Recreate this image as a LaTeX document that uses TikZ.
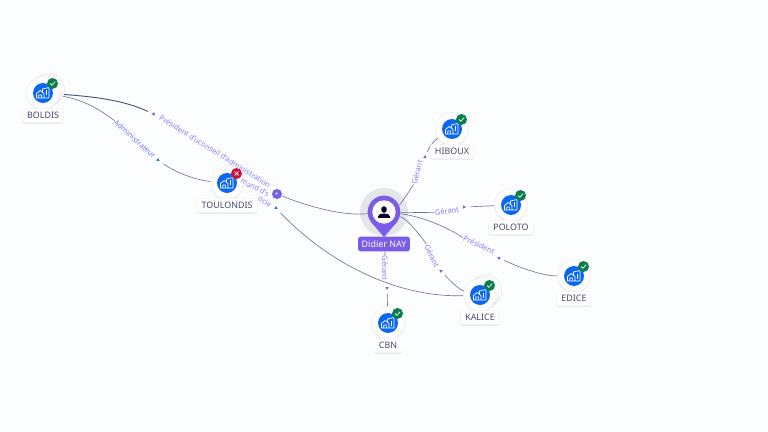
\documentclass[tikz,border=0pt]{standalone}
\usepackage{fontspec}
\setmainfont{Noto Sans}
\usetikzlibrary{shapes.geometric,shadows,backgrounds}
\definecolor{pagebg}{HTML}{FBFDFF}
\definecolor{pinpurple}{HTML}{7B5CE6}
\definecolor{halogray}{HTML}{E4E6EA}
\definecolor{edgeline}{HTML}{6E7A92}
\definecolor{edgedark}{HTML}{47587A}
\definecolor{edgetext}{HTML}{8A80EC}
\definecolor{edgeblue}{HTML}{2C6FE0}
\definecolor{compblue}{HTML}{0B68EE}
\definecolor{okgreen}{HTML}{0B7F4A}
\definecolor{kored}{HTML}{CC0F3C}
\definecolor{labeltext}{HTML}{444C6C}
\tikzset{
  comphalo/.style={circle, fill=white, draw=black!9, line width=0.4pt, minimum size=0.98cm, inner sep=0pt,
                   drop shadow={opacity=0.16, shadow xshift=0pt, shadow yshift=-0.7pt}},
  compdisc/.style={circle, fill=compblue, minimum size=0.6cm, inner sep=0pt},
  complabel/.style={fill=white, draw=black!5, line width=0.3pt, rounded corners=1.5pt, inner xsep=4pt, inner ysep=0pt,
                    minimum height=0.43cm, text=labeltext, font=\fontsize{7.6}{9}\selectfont,
                    drop shadow={opacity=0.22, shadow xshift=0pt, shadow yshift=-0.8pt}},
  edgelabel/.style={text=edgetext, font=\fontsize{6.4}{7}\selectfont, inner sep=0.5pt},
  edgetip/.style={regular polygon, regular polygon sides=3, fill=pinpurple,
                  minimum size=0.12cm, inner sep=0pt},
  edgelink/.style={draw=edgeline, line width=0.55pt},
  pics/okbadge/.style={code={
    \fill[okgreen] (0,0) circle (5.5);
    \draw[white, line width=0.6pt] (-2.5,0) -- (-0.7,1.8) -- (2.6,-1.8);}},
  pics/kobadge/.style={code={
    \fill[kored] (0,0) circle (5.5);
    \draw[white, line width=0.6pt] (-2,-2) -- (2,2) (-2,2) -- (2,-2);}},
  pics/building/.style={code={
    \draw[white, line width=0.6pt, line join=round]
      (-6.5,5) -- (-6.5,0.5) -- (-2.8,-2.5) -- (1,0.5) -- (1,5) -- cycle
      (-4.2,5) -- (-4.2,2) -- (-1.4,2) -- (-1.4,5)
      (-0.5,-1.5) -- (-0.5,-4) -- (6,-5.5) -- (6,5) -- (1,5);
    \draw[white, line width=0.6pt] (3.4,-2.5) -- (3.4,2.5);}}
}
\begin{document}
\begin{tikzpicture}[x=0.03cm, y=-0.03cm]
  \useasboundingbox (0,0) rectangle (768,432);
  \begin{scope}[on background layer]
    \fill[pagebg] (0,0) rectangle (768,432);
    \fill[halogray] (384,212) circle (24);
  \end{scope}
  % stacked companies behind the two top ones
  \foreach \x/\y in {48.5/89.5, 46/91, 485.5/291, 483/293}
    { \fill[white, draw=black!12, line width=0.4pt] (\x,\y) circle (16); }
  % name/x/y/text/badge
  \foreach \n/\x/\y/\t/\st in {%
      boldis/43/93/BOLDIS/okbadge, toulondis/227/183/TOULONDIS/kobadge,
      hiboux/452/129/HIBOUX/okbadge, poloto/511/205/POLOTO/okbadge,
      edice/574/276/EDICE/okbadge, kalice/480/295/KALICE/okbadge,
      cbn/388/323/CBN/okbadge}
    { \node[comphalo] (\n) at (\x,\y) {};
      \node[compdisc] (disc\n) at (\x,\y) {};
      \pic at (\x,\y) {building};
      \pic at (\x+9.5,\y-9.5) {\st};
      \node[complabel] (label\n) at (\x,\y+22.5) {\t}; }
  % the central person
  \fill[pinpurple] (371,222) -- (384,237) -- (397,222) -- cycle;
  \node[circle, fill=pinpurple, minimum size=0.98cm, inner sep=0pt] (didier) at (384,212) {};
  \node[circle, fill=white, minimum size=0.7cm, inner sep=0pt] (didierface) at (384,212) {};
  \fill[black!85!blue] (384,209.5) ellipse (2.8 and 3.3);
  \fill[black!85!blue] (378,218) -- (378,216.5) .. controls (378,212.5) and (390,212.5) .. (390,216.5) -- (390,218) -- cycle;
  \node[fill=pinpurple, rounded corners=2pt, text=white, inner xsep=3pt, inner ysep=0pt,
        minimum height=0.44cm, font=\fontsize{7.6}{9}\selectfont] (labeldidier) at (384,244) {Didier NAY};
  \node[circle, fill=pinpurple, minimum size=0.3cm, inner sep=0pt, text=white,
        font=\fontsize{6}{6}\selectfont] (plus) at (277,194) {+};
  % the labels of the links, and the small tips after them
  \node[edgelabel, rotate=-32] (lbpres) at (215,151.5) {Président d'uconseil d'administration};
  \node[edgelabel, rotate=-27, font=\fontsize{6.2}{7}\bfseries] (lbmand) at (255,187.5) {mand d's};
  \node[edgelabel, rotate=-35] (lbocie) at (265,201.5) {ocie};
  \node[edgelabel, rotate=-42, text=edgeblue!25!edgetext] (lbadm) at (135,139) {Administrateur};
  \node[edgelabel, rotate=75] (lbhib) at (417,172) {Gérant};
  \node[edgelabel, rotate=8] (lbpol) at (447,211) {Gérant};
  \node[edgelabel, rotate=-25] (lbpre) at (479,245) {Président};
  \node[edgelabel, rotate=-65] (lbkal) at (432,256) {Gérant};
  \node[edgelabel, rotate=-90] (lbcbn) at (385,268) {Gérant};
  % name/x/y/angle
  \foreach \n/\x/\y/\a in {%
      tphib/425/157/-15, tppol/464/207/-90, tpedi/499/258/180,
      tpkal/441/271/180, tpcbn/387/288/180, tppres/153.5/114/90}
    { \node[edgetip, rotate=\a] (\n) at (\x,\y) {}; }
  \foreach \n/\x/\y in {tpadm/158/160, tpocie/276/208}
    { \node[edgetip, fill=edgeblue] (\n) at (\x,\y) {}; }
  \begin{scope}[on background layer]
    \draw[edgelink] (didier) .. controls (345,216) and (312,208) .. (plus);
    \draw[edgelink, draw=edgedark, line width=0.8pt, shorten >=4pt] (boldis) .. controls (100,97) and (125,101) .. (tppres);
    \draw[edgelink] (boldis) .. controls (80,99) and (95,106) .. (lbadm.west);
    \draw[edgelink, shorten <=4pt] (tpadm) .. controls (175,172) and (195,180) .. (toulondis);
    \draw[edgelink] (didier) .. controls (400,205) and (410,190) .. (lbhib.west);
    \draw[edgelink, shorten <=3pt] (tphib) .. controls (429,148) and (432,142) .. (hiboux);
    \draw[edgelink] (didier) .. controls (405,213) and (420,212) .. (lbpol.west);
    \draw[edgelink, shorten <=4pt] (tppol) -- (poloto);
    \draw[edgelink] (didier) .. controls (420,216) and (445,226) .. (lbpre.west);
    \draw[edgelink, shorten <=4pt] (tpedi) .. controls (525,270) and (545,276) .. (edice);
    \draw[edgelink] (didier) .. controls (405,218) and (415,228) .. (lbkal.west);
    \draw[edgelink, shorten <=4pt] (tpkal) .. controls (452,283) and (460,290) .. (kalice);
    \draw[edgelink] (didier) -- (lbcbn.west);
    \draw[edgelink, shorten <=3pt] (tpcbn) -- (cbn);
    \draw[edgelink, shorten <=4pt] (tpocie) .. controls (330,265) and (400,298) .. (kalice);
  \end{scope}
\end{tikzpicture}
\end{document}
